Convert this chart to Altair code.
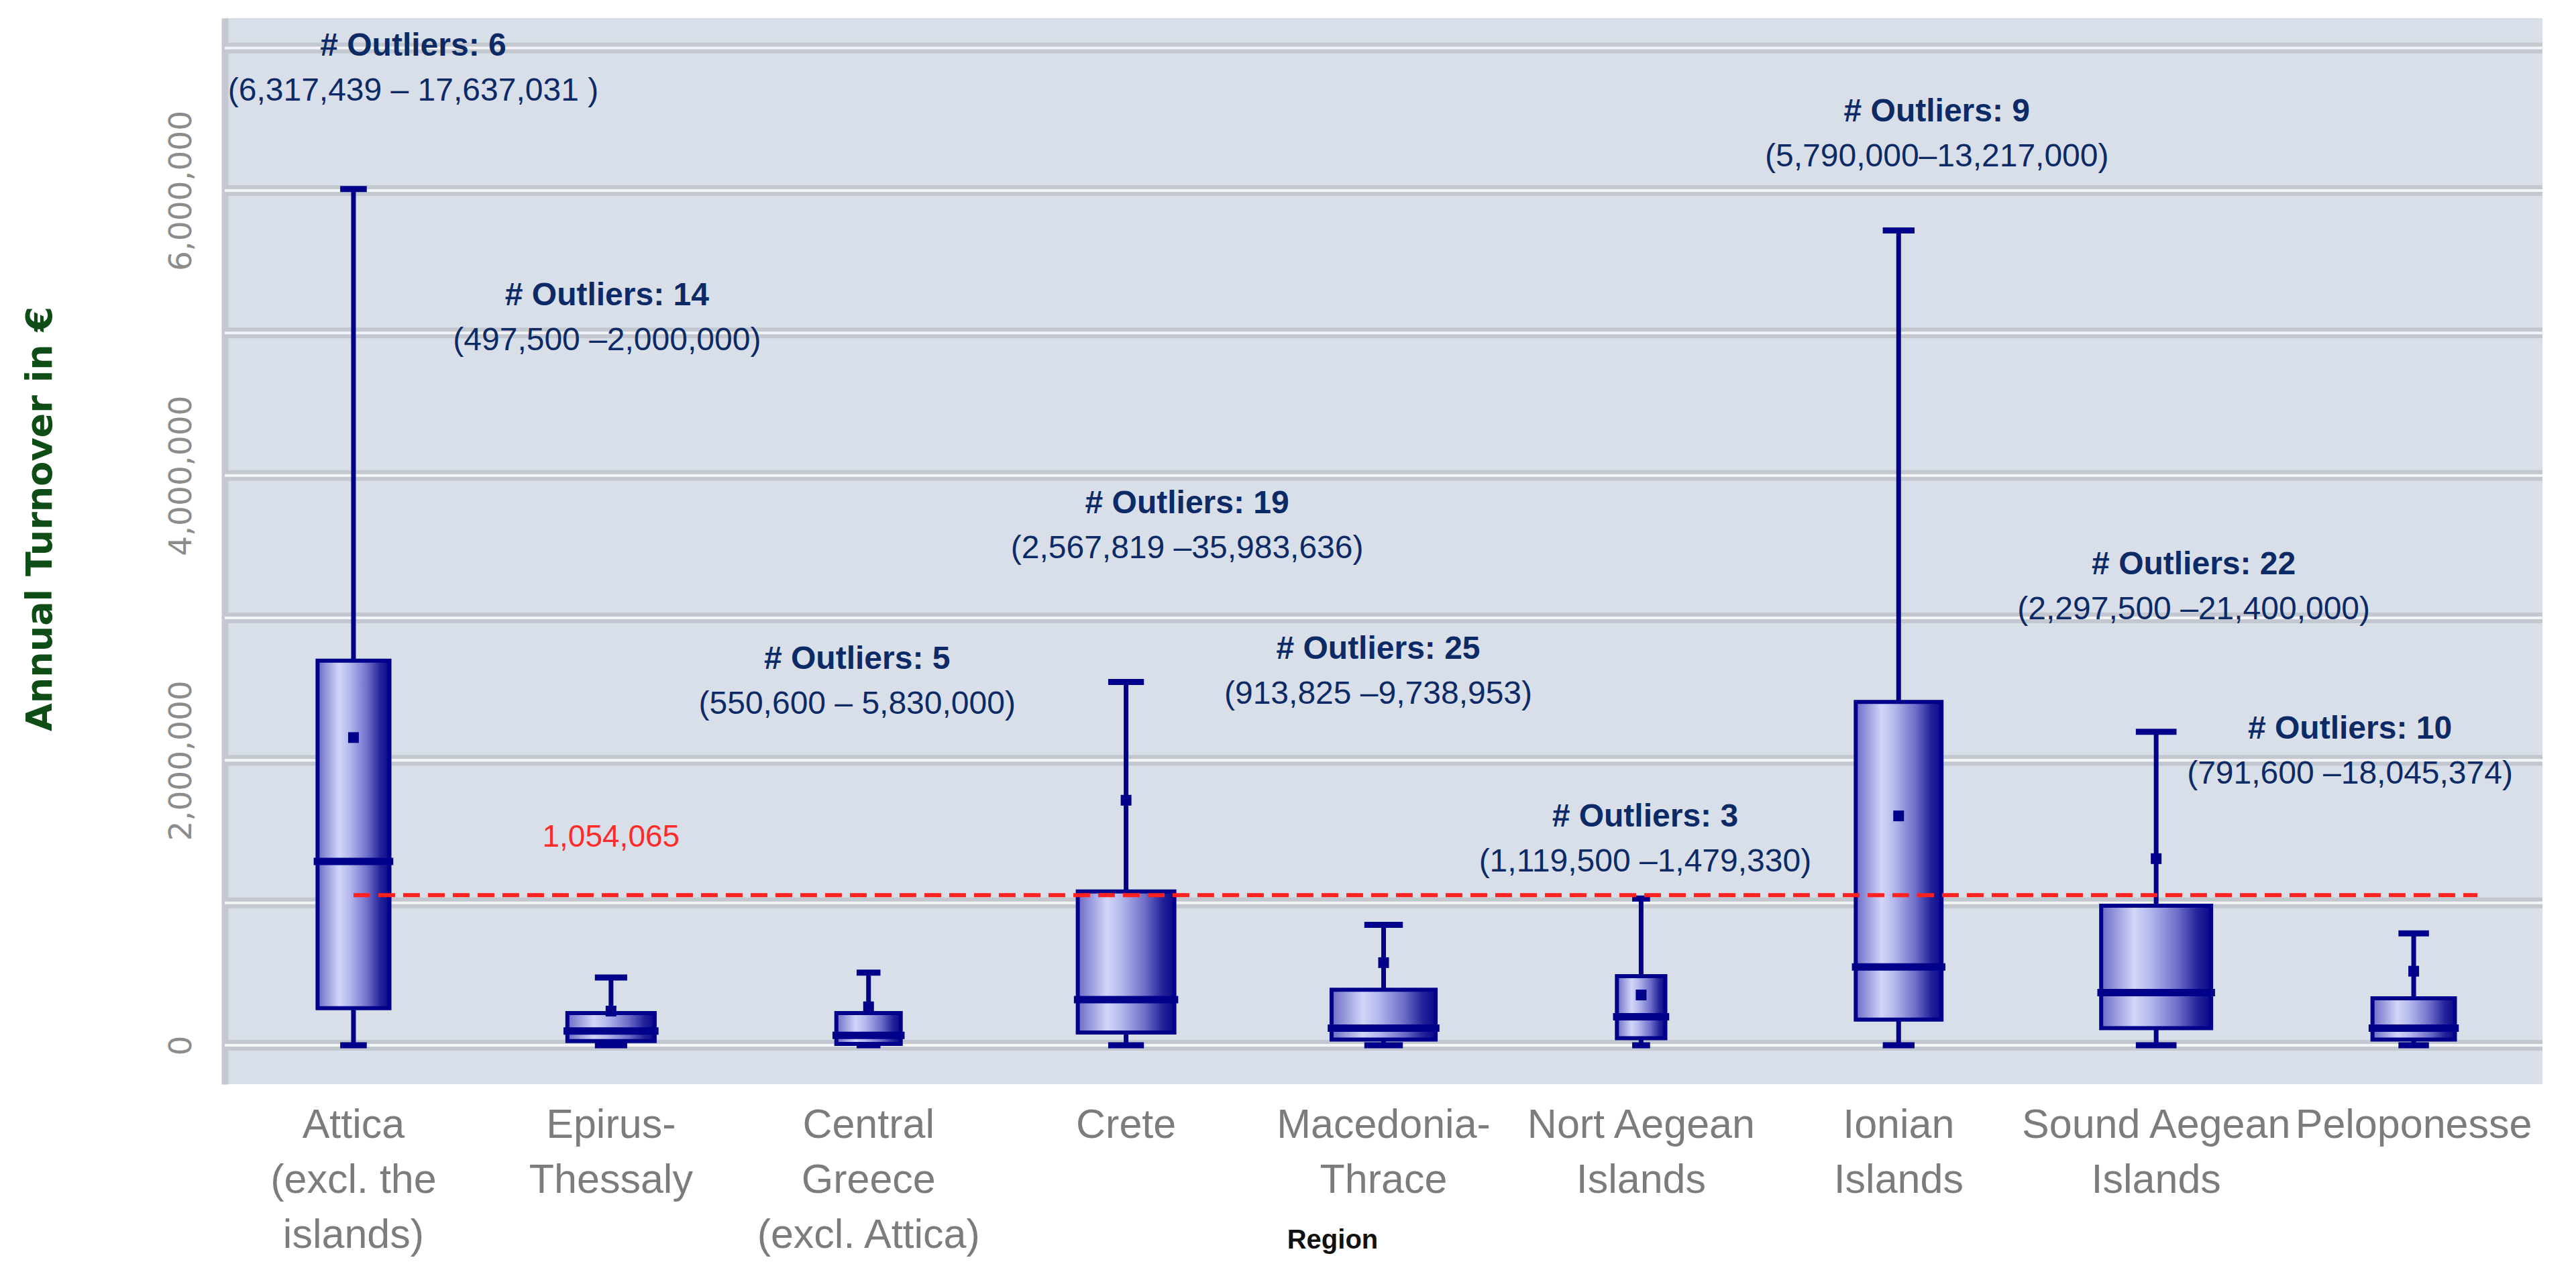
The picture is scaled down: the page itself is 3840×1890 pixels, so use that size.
import altair as alt
import pandas as pd

# ---------------- data ----------------
regions = [
    "Attica\n(excl. the\nislands)",
    "Epirus-\nThessaly",
    "Central\nGreece\n(excl. Attica)",
    "Crete",
    "Macedonia-\nThrace",
    "Nort Aegean\nIslands",
    "Ionian\nIslands",
    "Sound Aegean\nIslands",
    "Peloponesse",
]
whisker_low = [0, 0, 0, 0, 0, 0, 0, 0, 0]
q1 = [260000, 30000, 10000, 90000, 40000, 50000, 180000, 120000, 40000]
median = [1290000, 100000, 70000, 320000, 120000, 200000, 550000, 370000, 120000]
q3 = [2700000, 226000, 226000, 1080000, 390000, 485000, 2410000, 980000, 330000]
whisker_high = [6010000, 476000, 510000, 2550000, 845000, 1030000, 5720000, 2200000, 785000]
mean = [2160000, 240000, 270000, 1720000, 580000, 353000, 1610000, 1310000, 520000]
# relative box width (variable-width box plot, share of the category band)
rel_width = [0.279, 0.339, 0.250, 0.375, 0.404, 0.188, 0.333, 0.427, 0.320]

outlier_counts = [6, 14, 5, 19, 25, 3, 9, 22, 10]
outlier_ranges = [
    "(6,317,439  \u2013 17,637,031 )",
    "(497,500 \u20132,000,000)",
    "(550,600 \u2013 5,830,000)",
    "(2,567,819 \u201335,983,636)",
    "(913,825 \u20139,738,953)",
    "(1,119,500 \u20131,479,330)",
    "(5,790,000\u201313,217,000)",
    "(2,297,500 \u201321,400,000)",
    "(791,600 \u201318,045,374)",
]
reference_value = 1054065
y_ticks = [0, 2000000, 4000000, 6000000]
grid_values = [0, 1000000, 2000000, 3000000, 4000000, 5000000, 6000000, 7000000]

# ---------------- layout / style ----------------
PLOT_W, PLOT_H = 3455, 1589
NAVY = "#00008b"
ANNOT_COLOR = "#0c2b66"
# annotation anchor heights (value units) and horizontal shifts (px) from category centre
ANNOT_Y = [7010000, 5260000, 2710000, 3800000, 2780000, 1600000, 6550000, 3370000, 2220000]
ANNOT_DX = [89, -6, -17, 91, -8, 6, 57, 56, -95]
REF_LABEL_Y = 1460000

df = pd.DataFrame({
    "region": regions,
    "low": whisker_low,
    "q1": q1,
    "median": median,
    "q3": q3,
    "high": whisker_high,
    "mean": mean,
    "rel": rel_width,
})
df["cap_rel"] = df["rel"] * 0.37
df["med_rel"] = df["rel"] + 0.03

yscale = alt.Scale(domain=[-273000, 7210000], nice=False, zero=False)
xscale = alt.Scale(type="band", domain=regions, paddingInner=0, paddingOuter=0)
sscale = alt.Scale(domain=[0, 1], range=[0, PLOT_W / len(regions)], zero=True)

yaxis = alt.Axis(
    values=y_ticks, format=",d", labelAngle=270, labelAlign="center",
    labelBaseline="bottom", labelPadding=41, labelFont="DejaVu Sans",
    labelFontSize=47, labelColor="#8c8c8c", labelLimit=0, ticks=False, tickSize=0,
    grid=False, domain=True, domainColor="#c4c8d0", domainWidth=10,
    title="Annual Turnover in \u20ac", titleFont="DejaVu Sans", titleFontWeight="bold",
    titleFontSize=54, titleColor="#0f4d16", titleAngle=270, titleAlign="center",
    titleBaseline="middle", titleX=-275, titleY=746,
)
xaxis = alt.Axis(
    labelExpr="split(datum.label, '\\n')", labelAngle=0, labelFont="Liberation Sans",
    labelFontSize=61, labelColor="#7c7c7c", labelLineHeight=82, labelBaseline="top",
    labelAlign="center", labelPadding=31, labelLimit=0, ticks=False, tickSize=0,
    domain=False, grid=False,
    title="Region", titleFont="Liberation Sans", titleFontWeight="bold",
    titleFontSize=40, titleColor="#111111", titleX=1651, titleY=212,
    titleBaseline="top", titleAlign="center",
)


def X(field="region"):
    return alt.X(f"{field}:N", scale=xscale, axis=xaxis, sort=regions)


def Y(field):
    return alt.Y(f"{field}:Q", scale=yscale, axis=yaxis)


grid_df = pd.DataFrame({"v": grid_values})
grid_dark = alt.Chart(grid_df).mark_rule(strokeWidth=16, color="#c3c7cf").encode(y=Y("v"))
grid_light = alt.Chart(grid_df).mark_rule(strokeWidth=4, color="#f3f4f7").encode(y=Y("v"))

base = alt.Chart(df)
whisker = base.mark_rule(strokeWidth=7, color=NAVY).encode(
    x=X(), y=Y("low"), y2="high:Q")
cap_hi = base.mark_tick(thickness=9, color=NAVY, opacity=1).encode(
    x=X(), y=Y("high"), size=alt.Size("cap_rel:Q", scale=sscale, legend=None))
cap_lo = base.mark_tick(thickness=9, color=NAVY, opacity=1).encode(
    x=X(), y=Y("low"), size=alt.Size("cap_rel:Q", scale=sscale, legend=None))

gradient = alt.Gradient(
    gradient="linear", x1=0, x2=1, y1=0, y2=0,
    stops=[
        alt.GradientStop(offset=0.0, color="#6b6bc6"),
        alt.GradientStop(offset=0.3, color="#d2d6f8"),
        alt.GradientStop(offset=0.45, color="#b4b8ec"),
        alt.GradientStop(offset=0.7, color="#6c6cc8"),
        alt.GradientStop(offset=0.88, color="#22229a"),
        alt.GradientStop(offset=1.0, color="#0a0a8a"),
    ],
)
box = base.mark_bar(fill=gradient, stroke=NAVY, strokeWidth=6, opacity=1).encode(
    x=X(), y=Y("q1"), y2="q3:Q", size=alt.Size("rel:Q", scale=sscale, legend=None))
med = base.mark_tick(thickness=11, color=NAVY, opacity=1).encode(
    x=X(), y=Y("median"), size=alt.Size("med_rel:Q", scale=sscale, legend=None))
mean_pt = base.mark_square(size=256, color=NAVY, opacity=1).encode(x=X(), y=Y("mean"))

ref_df = pd.DataFrame({"start": [regions[0]], "end": [regions[-1]], "v": [reference_value]})
ref_line = alt.Chart(ref_df).mark_rule(
    color="#ff2020", strokeWidth=6, strokeDash=[25, 12], x2Offset=95
).encode(
    x=alt.X("start:N", scale=xscale, axis=xaxis, bandPosition=0.5),
    x2=alt.X2("end:N", bandPosition=0.5),
    y=Y("v"),
)
ref_lab_df = pd.DataFrame({"region": [regions[1]], "v": [REF_LABEL_Y],
                           "t": [f"{reference_value:,}"]})
ref_label = alt.Chart(ref_lab_df).mark_text(
    color="#ff2a2a", font="Liberation Sans", fontSize=46, baseline="middle", align="center"
).encode(x=X(), y=Y("v"), text="t:N")

layers = [grid_dark, grid_light, whisker, cap_hi, cap_lo, box, med, mean_pt, ref_line, ref_label]

for i in range(len(regions)):
    adf = pd.DataFrame({
        "region": [regions[i]], "v": [ANNOT_Y[i]],
        "title": [f"# Outliers: {outlier_counts[i]}"],
        "range": [outlier_ranges[i]],
    })
    ac = alt.Chart(adf)
    layers.append(ac.mark_text(
        dx=ANNOT_DX[i], font="Liberation Sans", fontWeight="bold", fontSize=48,
        color=ANNOT_COLOR, align="center", baseline="middle",
    ).encode(x=X(), y=Y("v"), text="title:N"))
    layers.append(ac.mark_text(
        dx=ANNOT_DX[i], dy=67, font="Liberation Sans", fontSize=48,
        color=ANNOT_COLOR, align="center", baseline="middle",
    ).encode(x=X(), y=Y("v"), text="range:N"))

chart = alt.layer(*layers).properties(
    width=PLOT_W, height=PLOT_H,
    padding={"left": 327, "top": 19, "right": 34, "bottom": 266},
    autosize=alt.AutoSizeParams(type="none"),
    background="white",
).configure_view(fill="#d9dfe8", stroke=None)

chart.save("out.html", embed_options={"renderer": "svg", "actions": False})
